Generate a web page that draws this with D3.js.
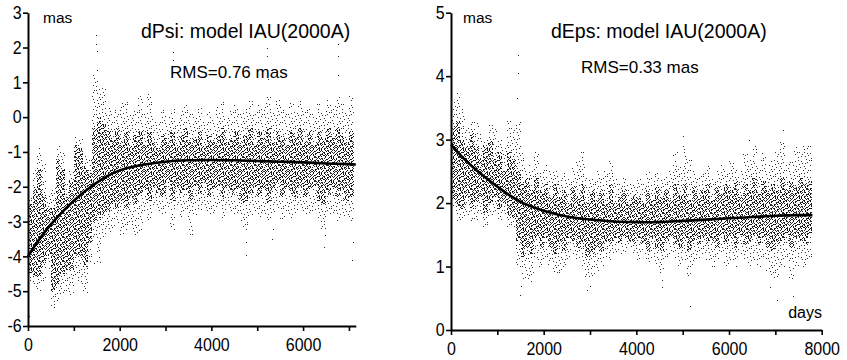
<!DOCTYPE html>
<html>
<head>
<meta charset="utf-8">
<script src="https://cdn.jsdelivr.net/npm/d3@7"></script>
<style>
  body { margin: 0; background: #fff; }
  text { font-family: "Liberation Sans", Arial, sans-serif; fill: #000; }
</style>
</head>
<body>
<div id="chart"></div>
<script>
// bins are 100 days wide: [startDay, outerLow, coreLow, coreHigh, outerHigh]
const binStep = 100;

const psiBins = [
  [0, -4.7, -4.5, -2.5, -2.2], [100, -4.9, -4.6, -2.0, -1.5], [200, -5.0, -4.6, -1.5, -0.9],
  [300, -4.8, -4.2, -2.2, -1.3], [400, -4.4, -4.0, -2.6, -2.2], [500, -5.45, -5.0, -2.6, -2.0],
  [600, -5.4, -4.8, -1.2, -0.8], [700, -5.1, -4.5, -1.5, -1.0], [800, -5.1, -4.4, -2.3, -1.9],
  [900, -5.1, -4.4, -1.8, -1.5], [1000, -4.6, -4.0, -0.8, -0.5], [1100, -4.8, -4.0, -0.9, -0.6],
  [1200, -5.05, -4.3, -1.4, -1.1], [1300, -4.2, -3.6, -1.6, -1.2], [1400, -3.6, -3.0, -0.3, 1.2],
  [1500, -4.2, -2.9, 0.0, 0.9], [1600, -3.5, -2.8, -0.2, 0.9], [1700, -3.3, -2.7, -0.4, 0.3],
  [1800, -3.3, -2.5, -0.6, 0.1], [1900, -3.1, -2.6, -0.3, 0.2], [2000, -3.4, -2.4, -0.7, 0.4],
  [2100, -3.3, -2.6, -0.4, 0.5], [2200, -3.1, -2.3, -0.8, 0.1], [2300, -3.4, -2.5, -0.5, 0.2],
  [2400, -3.3, -2.2, -0.4, 0.6], [2500, -2.7, -2.1, -0.8, 0.1], [2600, -3.0, -2.4, -0.4, 0.7],
  [2700, -2.6, -2.0, -0.7, 0.0], [2800, -2.7, -2.2, -0.9, -0.1], [2900, -2.8, -2.3, -0.5, 0.2],
  [3000, -2.6, -1.9, -0.7, 0.0], [3100, -3.3, -2.4, -0.4, 0.3], [3200, -2.6, -2.0, -0.8, -0.1],
  [3300, -2.9, -2.2, -0.5, 0.2], [3400, -2.7, -2.1, -0.3, 0.4], [3500, -3.4, -2.4, -0.7, 0.1],
  [3600, -2.8, -2.0, -0.6, 0.0], [3700, -2.7, -2.2, -0.4, 0.3], [3800, -2.6, -1.9, -0.8, -0.1],
  [3900, -2.9, -2.3, -0.5, 0.2], [4000, -2.8, -2.1, -0.7, 0.0], [4100, -2.6, -2.0, -0.5, 0.3],
  [4200, -2.9, -2.3, -0.3, 0.5], [4300, -2.7, -2.0, -0.7, 0.0], [4400, -2.9, -2.2, -0.6, 0.2],
  [4500, -2.8, -2.1, -0.4, 0.4], [4600, -3.0, -2.4, -0.7, 0.1], [4700, -3.3, -2.5, -0.5, 0.3],
  [4800, -2.9, -2.2, -0.3, 0.5], [4900, -2.7, -2.0, -0.8, 0.1], [5000, -2.9, -2.3, -0.4, 0.4],
  [5100, -2.8, -2.1, -0.6, 0.3], [5200, -3.0, -2.5, -0.3, 0.6], [5300, -2.8, -2.1, -0.7, 0.2],
  [5400, -2.6, -1.9, -0.4, 0.5], [5500, -3.0, -2.3, -0.6, 0.3], [5600, -2.7, -2.0, -0.8, 0.1],
  [5700, -2.9, -2.2, -0.4, 0.4], [5800, -2.8, -2.3, -0.6, 0.2], [5900, -2.7, -2.0, -0.3, 0.5],
  [6000, -2.9, -2.3, -0.7, 0.2], [6100, -2.8, -2.1, -0.4, 0.3], [6200, -2.7, -2.0, -0.8, 0.1],
  [6300, -3.0, -2.4, -0.4, 0.4], [6400, -3.2, -2.5, -0.6, 0.2], [6500, -2.9, -2.2, -0.3, 0.5],
  [6600, -2.8, -2.0, -0.6, 0.3], [6700, -3.0, -2.3, -0.3, 0.6], [6800, -2.8, -2.1, -0.5, 0.4],
  [6900, -2.9, -2.4, -0.7, 0.2], [7000, -3.0, -2.3, -0.4, 0.7]
];

const epsBins = [
  [0, 1.9, 2.05, 3.2, 3.6], [100, 1.7, 1.95, 3.3, 3.75], [200, 1.7, 1.9, 3.0, 3.5],
  [300, 1.8, 2.1, 2.9, 3.2], [400, 1.7, 1.9, 3.1, 3.35], [500, 1.7, 2.0, 2.9, 3.3],
  [600, 1.8, 2.1, 2.7, 3.1], [700, 1.6, 1.85, 2.9, 3.0], [800, 1.8, 2.0, 3.0, 3.25],
  [900, 1.8, 2.1, 2.7, 3.2], [1000, 1.7, 1.9, 2.8, 3.0], [1100, 1.8, 2.0, 2.5, 2.9],
  [1200, 1.6, 1.8, 2.8, 3.3], [1300, 1.6, 1.75, 2.7, 3.2], [1400, 1.0, 1.4, 2.5, 3.3],
  [1500, 0.8, 1.15, 2.3, 2.8], [1600, 0.8, 1.3, 2.4, 2.6], [1700, 0.75, 1.2, 2.2, 2.5],
  [1800, 1.1, 1.45, 2.4, 2.8], [1900, 1.0, 1.3, 2.2, 2.5], [2000, 1.1, 1.45, 2.3, 2.6],
  [2100, 1.0, 1.3, 2.1, 2.5], [2200, 0.9, 1.2, 2.3, 2.5], [2300, 0.9, 1.35, 2.1, 2.4],
  [2400, 1.0, 1.25, 2.2, 2.5], [2500, 1.1, 1.45, 2.0, 2.4], [2600, 1.2, 1.4, 2.25, 2.6],
  [2700, 1.1, 1.3, 2.1, 2.7], [2800, 1.0, 1.35, 2.3, 2.8], [2900, 0.8, 1.15, 2.0, 2.4],
  [3000, 0.8, 1.2, 2.2, 2.4], [3100, 0.9, 1.3, 2.05, 2.5], [3200, 1.0, 1.25, 2.2, 2.4],
  [3300, 1.1, 1.4, 2.0, 2.5], [3400, 1.1, 1.35, 2.3, 2.7], [3500, 1.2, 1.45, 2.0, 2.4],
  [3600, 1.2, 1.35, 2.1, 2.3], [3700, 1.2, 1.45, 2.2, 2.4], [3800, 1.3, 1.4, 2.0, 2.3],
  [3900, 1.2, 1.35, 2.15, 2.3], [4000, 1.1, 1.45, 2.1, 2.4], [4100, 1.2, 1.35, 2.0, 2.3],
  [4200, 1.0, 1.25, 2.2, 2.5], [4300, 1.1, 1.45, 2.05, 2.4], [4400, 1.0, 1.3, 2.25, 2.5],
  [4500, 0.9, 1.25, 2.1, 2.4], [4600, 1.1, 1.4, 2.2, 2.5], [4700, 1.2, 1.45, 2.05, 2.6],
  [4800, 1.1, 1.35, 2.3, 2.8], [4900, 1.0, 1.3, 2.15, 2.6], [5000, 1.1, 1.45, 2.3, 2.9],
  [5100, 0.85, 1.25, 2.05, 2.7], [5200, 1.0, 1.4, 2.25, 2.5], [5300, 1.1, 1.35, 2.1, 2.4],
  [5400, 1.2, 1.45, 2.2, 2.5], [5500, 1.1, 1.35, 2.3, 2.6], [5600, 1.0, 1.4, 2.05, 2.4],
  [5700, 1.1, 1.3, 2.25, 2.5], [5800, 1.2, 1.5, 2.15, 2.6], [5900, 1.0, 1.35, 2.3, 2.5],
  [6000, 1.1, 1.45, 2.2, 2.7], [6100, 1.0, 1.3, 2.35, 2.6], [6200, 1.2, 1.5, 2.1, 2.5],
  [6300, 1.1, 1.35, 2.3, 2.8], [6400, 1.0, 1.4, 2.2, 2.7], [6500, 1.1, 1.5, 2.4, 2.9],
  [6600, 1.0, 1.35, 2.15, 2.6], [6700, 1.1, 1.45, 2.35, 2.8], [6800, 0.9, 1.3, 2.2, 2.6],
  [6900, 0.8, 1.25, 2.3, 2.7], [7000, 0.8, 1.35, 2.2, 2.8], [7100, 1.0, 1.4, 2.4, 3.0],
  [7200, 1.1, 1.5, 2.2, 2.6], [7300, 0.8, 1.3, 2.35, 2.7], [7400, 1.0, 1.45, 2.25, 2.9],
  [7500, 1.1, 1.4, 2.4, 2.8], [7600, 1.0, 1.35, 2.3, 2.9], [7700, 1.1, 1.5, 2.35, 2.9]
];

// single stray points [day, mas]
const psiOutliers = [
  [1490, 2.35], [1490, 2.1], [1500, 1.9], [1500, 1.35], [1510, 1.05], [1430, -4.2],
  [3170, 1.87], [3170, 1.64], [5220, 2.0], [5220, 1.75], [5230, 1.1], [6760, 2.1],
  [6760, 1.75], [6770, 1.2], [4750, -3.96], [4760, -3.6], [5330, -3.5], [5340, -3.2],
  [6460, -3.72], [6470, -3.4], [7070, -4.1], [7080, -3.6], [20, -5.7], [560, -5.45]
];
const epsOutliers = [
  [1440, 4.34], [1440, 4.05], [1430, 3.65], [1490, 0.55], [1500, 0.7], [2940, 0.63],
  [2990, 0.7], [5160, 0.38], [4545, 0.79], [4545, 0.68], [7160, 3.15], [7160, 2.95],
  [6880, 0.68], [7030, 0.47], [7380, 0.53], [5000, 3.05], [6430, 3.0]
];

// fitted trend curves
const psiCurve = [
  [0, -4.0], [250, -3.5], [500, -3.08], [750, -2.72], [1000, -2.4], [1250, -2.12],
  [1500, -1.88], [1750, -1.68], [2000, -1.53], [2500, -1.37], [3000, -1.28], [3500, -1.24],
  [4000, -1.23], [4500, -1.24], [5000, -1.26], [5500, -1.28], [6000, -1.3], [6500, -1.33],
  [7000, -1.35], [7150, -1.36]
];
const epsCurve = [
  [0, 2.92], [250, 2.72], [500, 2.55], [750, 2.4], [1000, 2.26], [1250, 2.13],
  [1500, 2.02], [2000, 1.88], [2500, 1.79], [3000, 1.74], [3500, 1.71], [4000, 1.7],
  [4500, 1.7], [5000, 1.72], [5500, 1.74], [6000, 1.76], [6500, 1.78], [7000, 1.8],
  [7500, 1.81], [7800, 1.81]
];

const psiXTicks = [0, 1000, 2000, 3000, 4000, 5000, 6000, 7000];
const epsXTicks = [0, 1000, 2000, 3000, 4000, 5000, 6000, 7000, 8000];
const psiYTicks = [3, 2, 1, 0, -1, -2, -3, -4, -5, -6];
const epsYTicks = [5, 4, 3, 2, 1, 0];

const width = 847;
const height = 360;

const svg = d3.select("#chart").append("svg")
  .attr("width", width)
  .attr("height", height);

// dot textures for the scatter cloud (halton sequence so it does not look like a grid)
function halton(i, b) {
  let f = 1, r = 0;
  while (i > 0) { f /= b; r += f * (i % b); i = Math.floor(i / b); }
  return r;
}
const defs = svg.append("defs");
function dotPattern(id, size, n, opacity) {
  const p = defs.append("pattern")
    .attr("id", id)
    .attr("patternUnits", "userSpaceOnUse")
    .attr("width", size)
    .attr("height", size);
  p.selectAll("rect")
    .data(d3.range(1, n + 1))
    .join("rect")
    .attr("x", (k) => Math.floor(halton(k, 2) * size))
    .attr("y", (k) => Math.floor(halton(k, 3) * size))
    .attr("width", 1)
    .attr("height", 1)
    .attr("fill", "#000")
    .attr("fill-opacity", opacity);
}
dotPattern("dense", 24, 215, 0.85);
dotPattern("sparse", 24, 50, 0.8);

function panel(cfg) {
  const x = d3.scaleLinear(cfg.xDomain, cfg.xRange);
  const y = d3.scaleLinear(cfg.yDomain, cfg.yRange);
  const g = svg.append("g");

  const bx = (d) => Math.round(x(d[0]));
  const bw = (d) => Math.round(x(d[0] + binStep)) - Math.round(x(d[0]));

  g.append("g")
    .selectAll("rect")
    .data(cfg.bins)
    .join("rect")
    .attr("x", bx)
    .attr("width", bw)
    .attr("y", (d) => Math.round(y(d[4])))
    .attr("height", (d) => Math.round(y(d[1])) - Math.round(y(d[4])))
    .attr("fill", "url(#sparse)");

  g.append("g")
    .selectAll("rect")
    .data(cfg.bins)
    .join("rect")
    .attr("x", bx)
    .attr("width", bw)
    .attr("y", (d) => Math.round(y(d[3])))
    .attr("height", (d) => Math.round(y(d[2])) - Math.round(y(d[3])))
    .attr("fill", "url(#dense)");

  g.append("g")
    .selectAll("rect")
    .data(cfg.outliers)
    .join("rect")
    .attr("x", (d) => Math.round(x(d[0])))
    .attr("y", (d) => Math.round(y(d[1])))
    .attr("width", 1)
    .attr("height", 1)
    .attr("fill", "#222");

  const line = d3.line()
    .curve(d3.curveCatmullRom)
    .x((d) => x(d[0]))
    .y((d) => y(d[1]));

  g.append("path")
    .datum(cfg.curve)
    .attr("fill", "none")
    .attr("stroke", "#000")
    .attr("stroke-width", 2.6)
    .attr("d", line);

  // tick labels in the original are tall and a little narrow
  const styleAxis = (a) => {
    a.attr("font-family", null).attr("font-size", 18);
    a.select(".domain").attr("stroke", "#000").attr("stroke-width", 2);
    a.selectAll(".tick line").attr("stroke", "#000").attr("stroke-width", 1.6);
    a.selectAll(".tick text").attr("fill", "#000").attr("transform", "scale(0.89,1)");
  };

  g.append("g")
    .attr("transform", `translate(0,${cfg.yRange[0]})`)
    .call(
      d3.axisBottom(x)
        .tickValues(cfg.xTicks)
        .tickSize(5)
        .tickSizeOuter(0)
        .tickPadding(7)
        .tickFormat((d) => (d % 2000 ? "" : String(d)))
    )
    .call(styleAxis);

  g.append("g")
    .attr("transform", `translate(${cfg.xRange[0]},0)`)
    .call(
      d3.axisLeft(y)
        .tickValues(cfg.yTicks)
        .tickSize(5)
        .tickSizeOuter(0)
        .tickPadding(2)
        .tickFormat((d) => String(d))
    )
    .call(styleAxis);

  g.append("text")
    .attr("x", cfg.xRange[0] + cfg.masDx)
    .attr("y", 23)
    .attr("font-size", 15.5)
    .text("mas");

  g.append("text")
    .attr("x", cfg.titleX)
    .attr("y", 38)
    .attr("font-size", 19.5)
    .text(cfg.title);

  g.append("text")
    .attr("x", cfg.rmsX)
    .attr("y", cfg.rmsY)
    .attr("font-size", 17)
    .text(cfg.rms);

  return { g, x, y };
}

panel({
  xDomain: [0, 7150], xRange: [28, 355.8],
  yDomain: [-6, 3], yRange: [326, 12.7],
  bins: psiBins, outliers: psiOutliers, curve: psiCurve,
  xTicks: psiXTicks, yTicks: psiYTicks,
  masDx: 15, title: "dPsi: model IAU(2000A)", titleX: 141,
  rms: "RMS=0.76 mas", rmsX: 170, rmsY: 78
});

const right = panel({
  xDomain: [0, 8000], xRange: [451, 821.7],
  yDomain: [0, 5], yRange: [330, 12.7],
  bins: epsBins, outliers: epsOutliers, curve: epsCurve,
  xTicks: epsXTicks, yTicks: epsYTicks,
  masDx: 12, title: "dEps: model IAU(2000A)", titleX: 551,
  rms: "RMS=0.33 mas", rmsX: 581, rmsY: 73
});

right.g.append("text")
  .attr("x", 822)
  .attr("y", 318)
  .attr("text-anchor", "end")
  .attr("font-size", 16)
  .text("days");
</script>
</body>
</html>
